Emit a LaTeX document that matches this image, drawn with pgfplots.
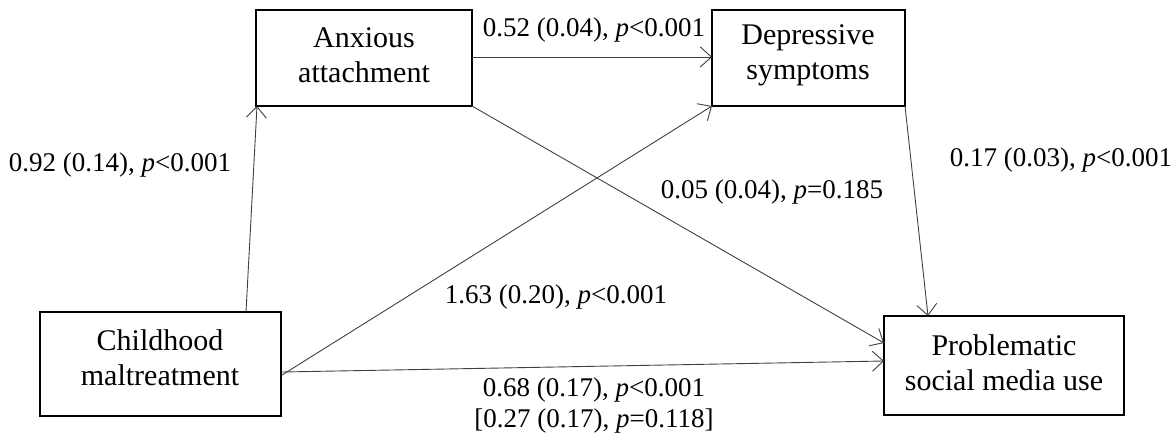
\documentclass[border=0pt]{standalone}
\usepackage{fontspec}
\setmainfont{Liberation Serif}
\usepackage{pgfplots}
\pgfplotsset{compat=1.18}
\usetikzlibrary{arrows.meta}

\tikzset{
  box/.style={black, line width=2.4pt, no marks, line join=miter},
  arr/.style={black!75, line width=0.9pt, no marks,
    -{Straight Barb[length=11pt,width=20pt]}},
  lab/.style={font=\fontsize{27}{31}\selectfont, align=center, inner sep=0pt},
  boxtxt/.style={font=\fontsize{30}{35}\selectfont, align=center, inner sep=0pt},
}

\begin{document}
\begin{tikzpicture}
\begin{axis}[
  width=1173pt, height=437pt, scale only axis,
  xmin=0, xmax=1173, ymin=0, ymax=437, y dir=reverse,
  hide axis, clip=false,
]
% boxes
\addplot[box] coordinates {(256,10) (472,10) (472,106) (256,106) (256,10) (472,10)};
\addplot[box] coordinates {(712,10) (905,10) (905,106) (712,106) (712,10) (905,10)};
\addplot[box] coordinates {(40,312) (281,312) (281,416) (40,416) (40,312) (281,312)};
\addplot[box] coordinates {(884,316) (1124,316) (1124,415) (884,415) (884,316) (1124,316)};

% paths
\addplot[arr] coordinates {(472,57) (712,57)};
\addplot[arr] coordinates {(246,312) (257,106)};
\addplot[arr] coordinates {(282,375) (712,106)};
\addplot[arr] coordinates {(472,106) (884,343)};
\addplot[arr] coordinates {(282,372) (884,361)};
\addplot[arr] coordinates {(905,106) (928,316)};

% box texts
\node[boxtxt] at (axis cs:364,55) {Anxious\\attachment};
\node[boxtxt] at (axis cs:808,55) {Depressive\\symptoms};
\node[boxtxt] at (axis cs:160,358) {Childhood\\maltreatment};
\node[boxtxt] at (axis cs:1004,363) {Problematic\\social media use};

% coefficients
\node[lab] at (axis cs:594,30) {0.52 (0.04), \textit{p}<0.001};
\node[lab] at (axis cs:120,165) {0.92 (0.14), \textit{p}<0.001};
\node[lab] at (axis cs:1061,160) {0.17 (0.03), \textit{p}<0.001};
\node[lab] at (axis cs:772,192) {0.05 (0.04), \textit{p}=0.185};
\node[lab] at (axis cs:556,297) {1.63 (0.20), \textit{p}<0.001};
\node[lab] at (axis cs:594,390) {0.68 (0.17), \textit{p}<0.001};
\node[lab] at (axis cs:594,421) {[0.27 (0.17), \textit{p}=0.118]};
\end{axis}
\pgfresetboundingbox
\path (0,0) rectangle (1173pt,437pt);
\end{tikzpicture}
\end{document}
